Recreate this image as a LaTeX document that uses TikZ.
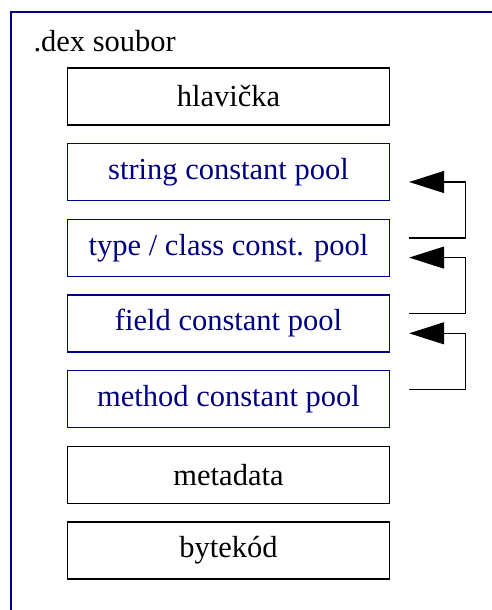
\documentclass[tikz,border=0pt]{standalone}
\usepackage{fontspec}
\setmainfont{Liberation Serif}
\usetikzlibrary{arrows.meta}
\definecolor{poolblue}{HTML}{000080}
\begin{document}
\begin{tikzpicture}[x=1pt,y=-1pt,
  section/.style={draw=black, line width=1.3pt, minimum width=322pt, minimum height=57pt,
    inner sep=0pt, font=\fontsize{30.5}{31}\selectfont, text=black},
  pool/.style={section, draw=poolblue, text=poolblue},
  ref/.style={line width=1.1pt, -{Triangle[length=35pt,width=22pt]}}]
\useasboundingbox (0,0) rectangle (492,610);
% file frame
\draw[poolblue, line width=2pt] (11,610) -- (11,12) -- (492,12);
\node[anchor=base west, font=\fontsize{30.5}{31}\selectfont] (title) at (30,52) {.dex soubor};
% sections of the file
\node[section] (head) at (228.5,96.5) {hlavička};
\node[pool] (str)   at (228.5,172.2) {string constant pool};
\node[pool] (type)  at (228.5,247.8) {type / class const. pool};
\node[pool] (field) at (228.5,323.5) {field constant pool};
\node[pool] (meth)  at (228.5,399.2) {method constant pool};
\node[section] (meta) at (228.5,474.8) {metadata};
\node[section] (code) at (228.5,550.5) {bytekód};
% references to the preceding pool
\draw[ref] ([shift={(19pt,9.8pt)}]type.east) -- ++(56,0) |- ([shift={(19pt,-9.8pt)}]str.east);
\draw[ref] ([shift={(19pt,9.8pt)}]field.east) -- ++(56,0) |- ([shift={(19pt,-9.8pt)}]type.east);
\draw[ref] ([shift={(19pt,9.8pt)}]meth.east) -- ++(56,0) |- ([shift={(19pt,-9.8pt)}]field.east);
\end{tikzpicture}
\end{document}
